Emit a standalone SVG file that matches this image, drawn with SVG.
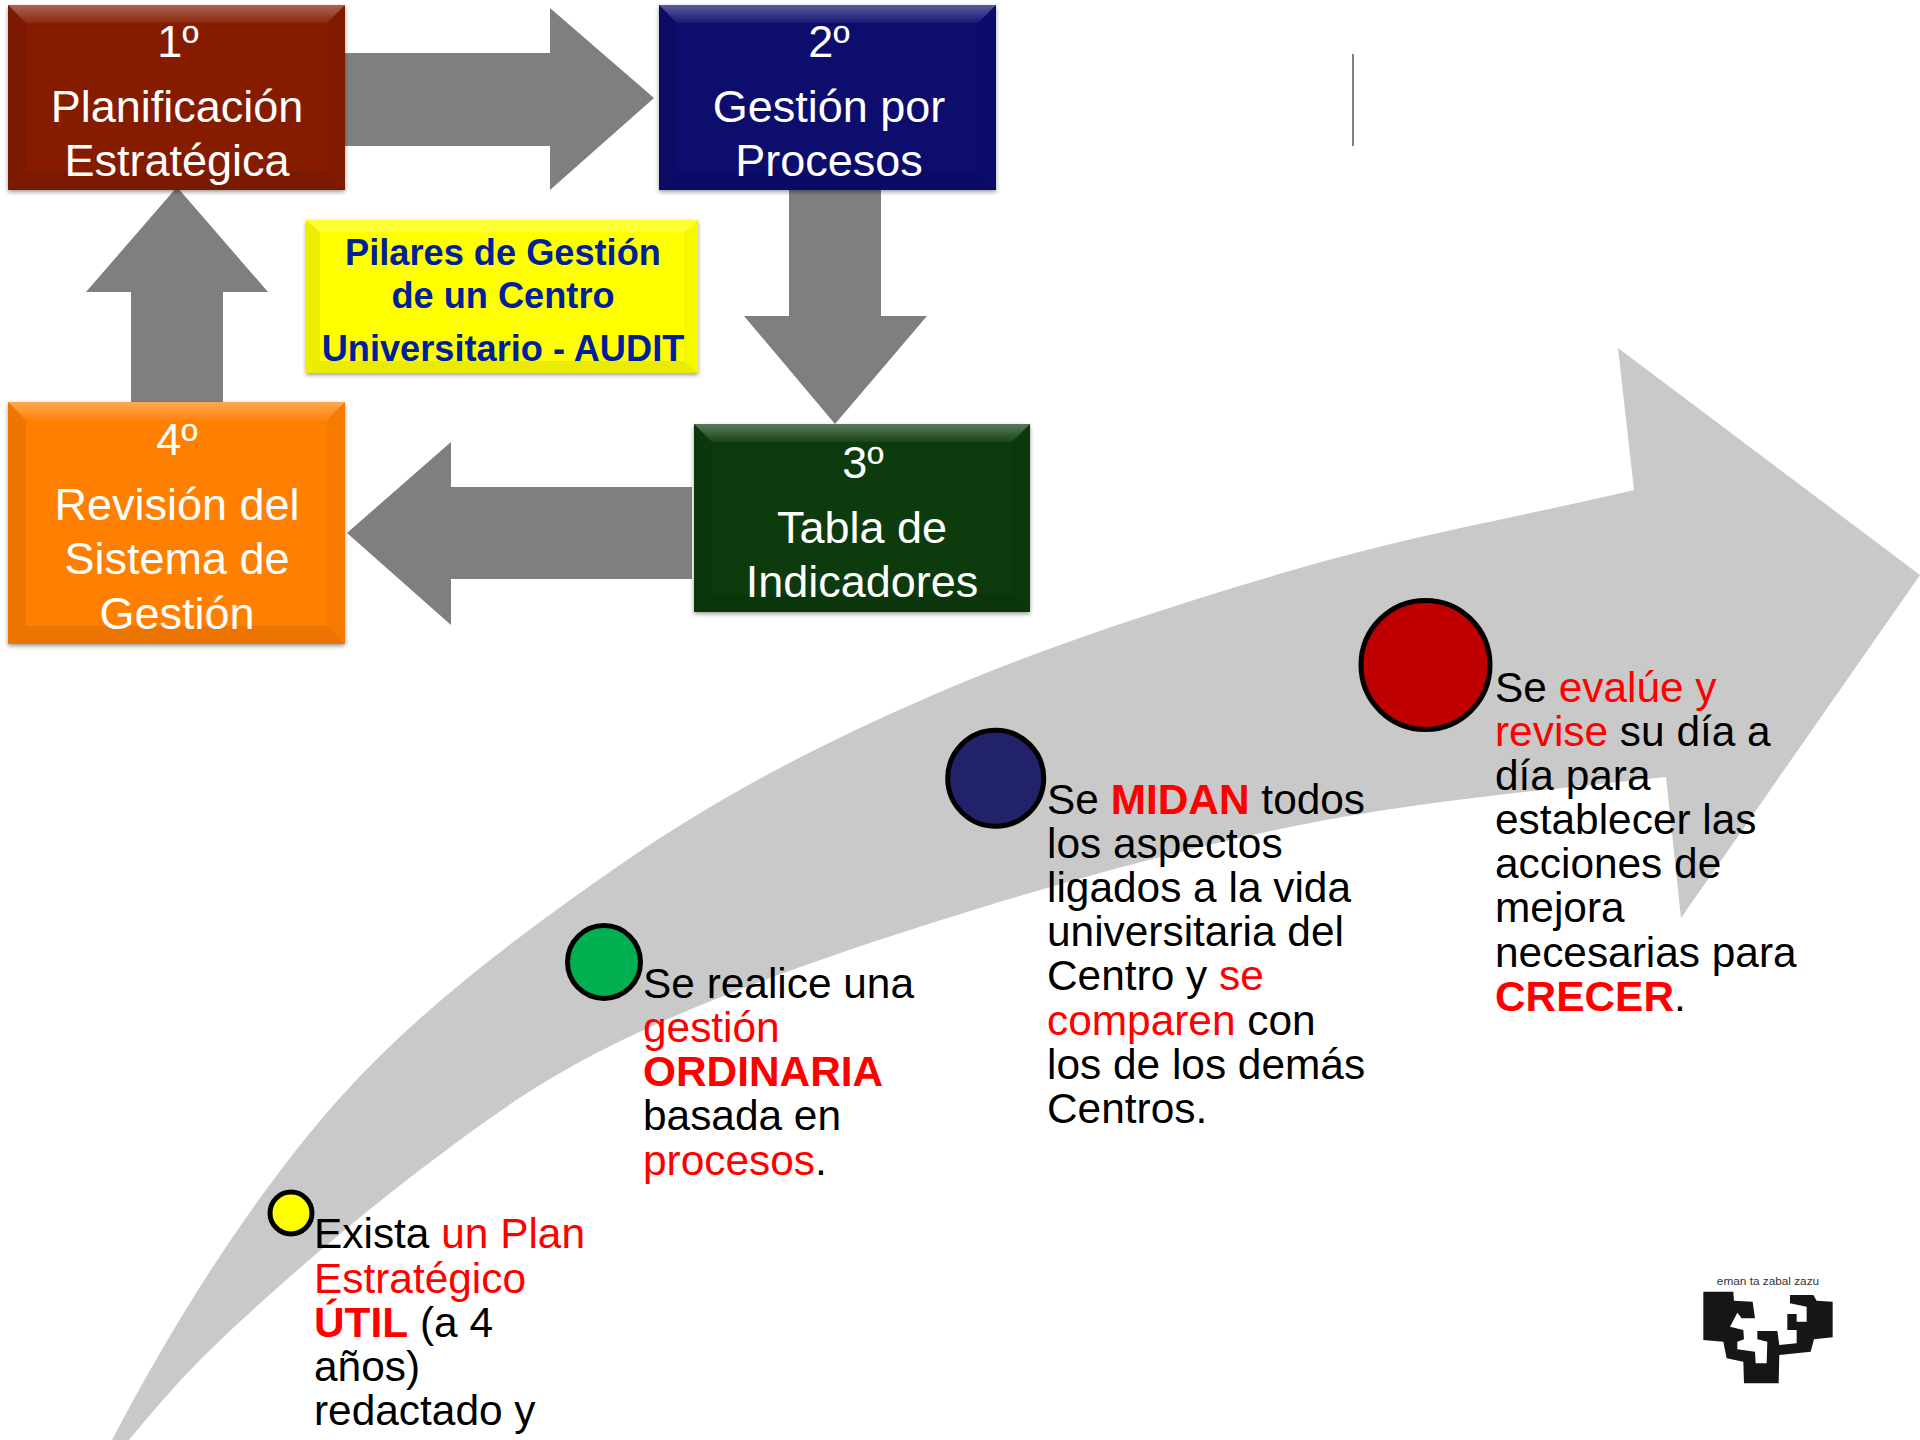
<svg xmlns="http://www.w3.org/2000/svg" width="1920" height="1440" viewBox="0 0 1920 1440">
<style>
.box{font-family:"Liberation Sans",Arial,sans-serif;font-size:45px;fill:#fff;text-anchor:middle}
.pil{font-family:"Liberation Sans",Arial,sans-serif;font-size:36.2px;font-weight:bold;fill:#00209a;text-anchor:middle}
.txt{font-family:"Liberation Sans",Arial,sans-serif;font-size:42.4px;fill:#000}
.r{fill:#f00}
.b{fill:#f00;font-weight:bold}
.arrow{fill:#7f7f7f}
.dot{stroke:#000;stroke-width:5}
.hi{fill:url(#top);}
.lo{fill:#000;opacity:.08}
.ls{fill:#000;opacity:.07}
.rs{fill:#000;opacity:.03}
</style>
<defs>
<linearGradient id="top" x1="0" y1="0" x2="0" y2="1"><stop offset="0" stop-color="#fff" stop-opacity=".32"/><stop offset="1" stop-color="#fff" stop-opacity=".05"/></linearGradient>
<filter id="sh" x="-5%" y="-5%" width="110%" height="115%"><feDropShadow dx="0" dy="2" stdDeviation="2" flood-color="#000" flood-opacity=".4"/></filter>
</defs>
<rect width="1920" height="1440" fill="#fff"/>
<path id="big-arrow" fill="#c9c9c9" d="M112 1440C172 1325 252 1197 338 1100C422 1006 526 930 627 860C726 792.500 821 743.700 933 695C1045 646 1183 602 1300 568C1417 534 1524 516 1634 490L1618 348L1920 575L1681 918L1666 777C1544 790 1421 801 1300 825C1179 849 1049 886 938 921C827 956 717 995 633 1035C549 1075 505 1106 433 1160C361 1214 262 1298 200 1360C175 1385 152 1412 129 1440Z"/>
<g id="connectors">
<path class="arrow" d="M345 53H550V8L654 98L550 190V146H345Z"/>
<path class="arrow" d="M789 190H881V316H927L835 424L744 316H789Z"/>
<path class="arrow" d="M692 487H451V442L347 533L451 625V579H692Z"/>
<path class="arrow" d="M131 402V292H86L177 187L268 292H223V402Z"/>
</g>
<path id="rule" d="M1353 54V146" stroke="#555" stroke-width="1.5" fill="none"/>
<g id="node-1">
<g filter="url(#sh)"><rect x="8" y="5" width="337" height="185" fill="#851a06"/></g>
<path class="hi" d="M8 5H345L327 23H26Z"/><path class="ls" d="M8 5L26 23V172L8 190Z"/><path class="rs" d="M345 5L327 23V172L345 190Z"/><path class="lo" d="M8 190L26 172H327L345 190Z"/>
<text class="box" x="178" y="57">1º</text><text class="box" x="177" y="122">Planificación</text><text class="box" x="177" y="176">Estratégica</text>
</g>
<g id="node-2">
<g filter="url(#sh)"><rect x="659" y="5" width="337" height="185" fill="#10106e"/></g>
<path class="hi" d="M659 5H996L978 23H677Z"/><path class="ls" d="M659 5L677 23V172L659 190Z"/><path class="rs" d="M996 5L978 23V172L996 190Z"/><path class="lo" d="M659 190L677 172H978L996 190Z"/>
<text class="box" x="829" y="57">2º</text><text class="box" x="829" y="122">Gestión por</text><text class="box" x="829" y="176">Procesos</text>
</g>
<g id="node-pilares">
<g filter="url(#sh)"><rect x="306" y="220" width="392" height="153" fill="#ff0"/></g>
<path fill="#fff" opacity=".2" d="M306 220H698L684 232H320Z"/><path class="ls" d="M306 220L320 232V361L306 373Z"/><path class="rs" d="M698 220L684 232V361L698 373Z"/><path class="lo" d="M306 373L320 361H684L698 373Z"/>
<text class="pil" x="503" y="265">Pilares de Gestión</text><text class="pil" x="503" y="308">de un Centro</text><text class="pil" x="503" y="361">Universitario - AUDIT</text>
</g>
<g id="node-3">
<g filter="url(#sh)"><rect x="694" y="424" width="336" height="188" fill="#073a0a"/></g>
<path class="hi" d="M694 424H1030L1012 442H712Z"/><path class="ls" d="M694 424L712 442V594L694 612Z"/><path class="rs" d="M1030 424L1012 442V594L1030 612Z"/><path class="lo" d="M694 612L712 594H1012L1030 612Z"/>
<text class="box" x="863" y="478">3º</text><text class="box" x="862" y="543">Tabla de</text><text class="box" x="862" y="597">Indicadores</text>
</g>
<g id="node-4">
<g filter="url(#sh)"><rect x="8" y="402" width="337" height="242" fill="#ff7f00"/></g>
<path class="hi" d="M8 402H345L327 420H26Z"/><path class="ls" d="M8 402L26 420V626L8 644Z"/><path class="rs" d="M345 402L327 420V626L345 644Z"/><path class="lo" d="M8 644L26 626H327L345 644Z"/>
<text class="box" x="177" y="455">4º</text><text class="box" x="177" y="520">Revisión del</text><text class="box" x="177" y="574">Sistema de</text><text class="box" x="177" y="629">Gestión</text>
</g>
<g id="step-1">
<circle class="dot" cx="291" cy="1213" r="21" fill="#ff0"/>
<text class="txt"><tspan x="314" y="1248">Exista <tspan class="r">un Plan</tspan></tspan><tspan x="314" y="1293" class="r">Estratégico</tspan><tspan x="314" y="1337"><tspan class="b">ÚTIL</tspan> (a 4</tspan><tspan x="314" y="1381">años)</tspan><tspan x="314" y="1425">redactado y</tspan></text>
</g>
<g id="step-2">
<circle class="dot" cx="604" cy="962" r="36.500" fill="#00b050"/>
<text class="txt"><tspan x="643" y="998">Se realice una</tspan><tspan x="643" y="1042" class="r">gestión</tspan><tspan x="643" y="1086" class="b">ORDINARIA</tspan><tspan x="643" y="1130">basada en</tspan><tspan x="643" y="1175"><tspan class="r">procesos</tspan>.</tspan></text>
</g>
<g id="step-3">
<circle class="dot" cx="995.700" cy="778.300" r="48" fill="#22226a"/>
<text class="txt"><tspan x="1047" y="814">Se <tspan class="b">MIDAN</tspan> todos</tspan><tspan x="1047" y="858">los aspectos</tspan><tspan x="1047" y="902">ligados a la vida</tspan><tspan x="1047" y="946">universitaria del</tspan><tspan x="1047" y="990">Centro y <tspan class="r">se</tspan></tspan><tspan x="1047" y="1035"><tspan class="r">comparen</tspan> con</tspan><tspan x="1047" y="1079">los de los demás</tspan><tspan x="1047" y="1123">Centros.</tspan></text>
</g>
<g id="step-4">
<circle class="dot" cx="1425.500" cy="665" r="64.500" fill="#c00000"/>
<text class="txt"><tspan x="1495" y="702">Se <tspan class="r">evalúe y</tspan></tspan><tspan x="1495" y="746"><tspan class="r">revise</tspan> su día a</tspan><tspan x="1495" y="790">día para</tspan><tspan x="1495" y="834">establecer las</tspan><tspan x="1495" y="878">acciones de</tspan><tspan x="1495" y="922">mejora</tspan><tspan x="1495" y="967">necesarias para</tspan><tspan x="1495" y="1011"><tspan class="b">CRECER</tspan><tspan>.</tspan></tspan></text>
</g>
<g id="logo">
<text x="1768" y="1285" font-family="Liberation Sans, Arial, sans-serif" font-size="11.8" fill="#333" text-anchor="middle">eman ta zabal zazu</text>
<path fill="#161616" transform="translate(1660 1250) scale(.3333)" d="M130 125H220L222 152L278 155L285 205H245L232 188L210 230L250 240L252 268L232 275V298L285 305L287 340H320L322 275L292 268V243H352L358 285L410 280V240H382V192H410V215H440V170L390 160V135H460L470 152L518 155V262L462 268L452 305L358 315L356 400H252L250 335L200 325L190 275L130 270Z"/>
</g>
</svg>
